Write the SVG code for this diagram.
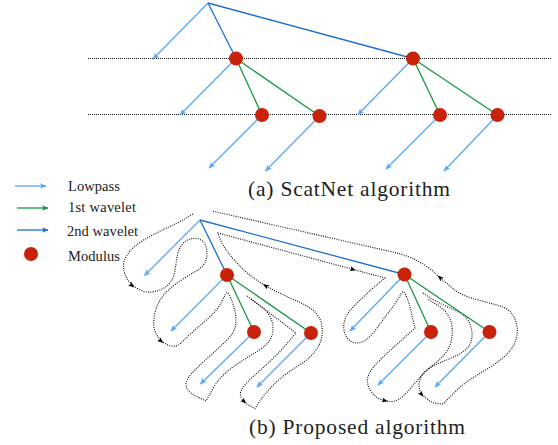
<svg xmlns="http://www.w3.org/2000/svg" xmlns:xlink="http://www.w3.org/1999/xlink" width="558" height="445" viewBox="0 0 558 445">
<style>
  .lp { stroke: #58a8f5; stroke-width: 1.3; fill: none; marker-end: url(#mlp); }
  .w1 { stroke: #1a9641; stroke-width: 1.3; fill: none; }
  .w2 { stroke: #1f6fcf; stroke-width: 1.3; fill: none; }
  .mod { fill: #c8230a; }
  .grid { stroke: #111; stroke-width: 1; stroke-dasharray: 1 1; fill: none; }
  .dot { stroke: #111; stroke-width: 1.15; stroke-dasharray: 1 1.3; fill: none; }
  .ah { fill: #000; }
  .lbl { font-family: "Liberation Serif", "Times New Roman", serif; font-size: 14.5px; fill: #222; }
  .cap { font-family: "Liberation Serif", "Times New Roman", serif; font-size: 21.5px; fill: #222; }
</style>
<defs>
  <marker id="mlp" viewBox="-7 -4 8 8" refX="0" refY="0" markerWidth="8" markerHeight="8" markerUnits="userSpaceOnUse" orient="auto">
    <path d="M0.6,0 L-6,-2.8 L-4.4,0 L-6,2.8 Z" fill="#58a8f5"/>
  </marker>
  <marker id="mw1" viewBox="-7 -4 8 8" refX="0" refY="0" markerWidth="8" markerHeight="8" markerUnits="userSpaceOnUse" orient="auto">
    <path d="M0.6,0 L-6,-2.8 L-4.4,0 L-6,2.8 Z" fill="#1a9641"/>
  </marker>
  <marker id="mw2" viewBox="-7 -4 8 8" refX="0" refY="0" markerWidth="8" markerHeight="8" markerUnits="userSpaceOnUse" orient="auto">
    <path d="M0.6,0 L-6,-2.8 L-4.4,0 L-6,2.8 Z" fill="#1f6fcf"/>
  </marker>
  <path id="ah" d="M3,0 L-3,-2.4 L-1.8,0 L-3,2.4 Z"/>
</defs>

<!-- (a) level lines -->
<g id="levels">
  <line class="grid" x1="88" y1="58.5" x2="552" y2="58.5"/>
  <line class="grid" x1="88" y1="114.5" x2="552" y2="114.5"/>
</g>

<!-- (a) connectors -->
<g id="connectors-a">
  <line class="lp" x1="208" y1="3" x2="153" y2="59"/>
  <line class="w2" x1="208" y1="3" x2="236" y2="58.5"/>
  <line class="w2" x1="208" y1="3" x2="413" y2="58.5"/>
  <line class="lp" x1="236" y1="58.5" x2="180" y2="115"/>
  <line class="w1" x1="236" y1="58.5" x2="262" y2="115"/>
  <line class="w1" x1="236" y1="58.5" x2="319.5" y2="116"/>
  <line class="lp" x1="262" y1="115" x2="209" y2="168"/>
  <line class="lp" x1="319.5" y1="116" x2="265.5" y2="171"/>
  <line class="lp" x1="413" y1="58.5" x2="358" y2="114.5"/>
  <line class="w1" x1="413" y1="58.5" x2="440" y2="115"/>
  <line class="w1" x1="413" y1="58.5" x2="497.5" y2="115"/>
  <line class="lp" x1="440" y1="115" x2="386" y2="169"/>
  <line class="lp" x1="497.5" y1="115" x2="444" y2="171"/>
</g>
<g id="a-A"><circle class="mod" cx="236" cy="58.5" r="7"/></g>
<g id="a-B"><circle class="mod" cx="413" cy="58.5" r="7"/></g>
<g id="a-C"><circle class="mod" cx="262" cy="115" r="7"/></g>
<g id="a-D"><circle class="mod" cx="319.5" cy="116" r="7"/></g>
<g id="a-E"><circle class="mod" cx="440" cy="115" r="7"/></g>
<g id="a-F"><circle class="mod" cx="497.5" cy="115" r="7"/></g>
<text class="cap" x="248" y="196" textLength="202" lengthAdjust="spacing">(a) ScatNet algorithm</text>

<!-- legend -->
<g id="legend">
  <line x1="15" y1="186" x2="46" y2="186" stroke="#58a8f5" stroke-width="1.3" marker-end="url(#mlp)"/>
  <text class="lbl" x="68" y="190.7" textLength="52" lengthAdjust="spacing">Lowpass</text>
  <line x1="17" y1="208" x2="48" y2="208" stroke="#1a9641" stroke-width="1.3" marker-end="url(#mw1)"/>
  <text class="lbl" x="68" y="211.7" textLength="68" lengthAdjust="spacing">1st wavelet</text>
  <line x1="17" y1="230" x2="48" y2="230" stroke="#1f6fcf" stroke-width="1.3" marker-end="url(#mw2)"/>
  <text class="lbl" x="67" y="235.5" textLength="71" lengthAdjust="spacing">2nd wavelet</text>
  <circle class="mod" cx="31" cy="254" r="7"/>
  <text class="lbl" x="68" y="260.7" textLength="52" lengthAdjust="spacing">Modulus</text>
</g>

<!-- (b) traversal contour -->
<g id="traversal">
  <path class="dot" d="M193,214 Q180,222 172,225.5 Q164,229 153.5,234.5 Q143,240 136.5,245 Q130,250 126.5,256 Q123,262 123.5,267.5 Q124,273 127,278.5 Q130,284 137.5,288.5 Q145,293 151.5,292 Q158,291 163,288.5 Q168,286 171,281.5 Q174,277 175,270.5 Q176,264 177,257.5 Q178,251 181,246 Q184,241 189.5,239.25 Q195,237.5 199.5,239.25 Q204,241 205.75,246 Q207.5,251 206.75,256.5 Q206,262 203,265.5 Q200,269 194.5,272 Q189,275 181.5,280 Q174,285 168,290.5 Q162,296 158.5,303 Q155,310 154,317.5 Q153,325 155,331 Q157,337 161.5,341 Q166,345 171.5,346 Q177,347 181,343 Q185,339 191,333.5 Q197,328 203.5,322.5 Q210,317 214.5,312 Q219,307 221.5,302 Q224,297 225.5,294 Q227,291 229,294.5 Q231,298 233,304 Q235,310 235.75,316.5 Q236.5,323 234.75,328.5 Q233,334 226.5,340.5 Q220,347 211,355 Q202,363 195,370 Q188,377 186.5,381.5 Q185,386 188,390 Q191,394 198.5,397.5 L206,401 L208.5,396.5 Q211,392 214.5,386 Q218,380 224.5,374 Q231,368 239.5,362.5 Q248,357 257,351.5 Q266,346 269.5,340.5 Q273,335 273,328.5 Q273,322 270,316.5 Q267,311 262.5,307.5 L251,299"/>
  <path class="dot" d="M247,296 L296,333 Q281,351 272.5,359 Q264,367 256.5,373.5 Q249,380 244,386 Q239,392 241,397 Q243,402 249,405.25 L255,408.5 L259,402.25 Q263,396 270.5,388 Q278,380 285.5,374.5 Q293,369 301,364 Q309,359 314.5,352 Q320,345 321.5,338 Q323,331 321.5,324 Q320,317 315,312 Q310,307 300,302.5 Q290,298 277.5,292 Q265,286 255,279 Q245,272 236.5,262.5 Q228,253 224,246.5 Q220,240 218,233 L385,278 Q373,288 366.5,294 Q360,300 354,306 Q348,312 345.5,318 Q343,324 344,330 Q345,336 348.5,339.5 Q352,343 357,343 Q362,343 367,339 Q372,335 377,328 Q382,321 387,314.5 Q392,308 395.5,303 Q399,298 401,294 Q403,290 405,293.5 Q407,297 409.5,305 L415,328 Q403,339 395,346 Q387,353 379.5,360.5 Q372,368 369.5,373 Q367,378 367.5,382.5 Q368,387 371.5,392 Q375,397 380,399 Q385,401 390,401.5 Q395,402 400,398.5 Q405,395 409.5,389.5 Q414,384 419,378.5 Q424,373 430.5,367.5 Q437,362 442.5,356.5 Q448,351 450.25,344 Q452.5,337 452.25,329.5 Q452,322 448.5,316 Q445,310 439.5,306.5 Q434,303 427,298.5"/>
  <path class="dot" d="M423,293 Q433,300 441.5,304 Q450,308 457.5,311.5 Q465,315 468.5,321 Q472,327 472,335 Q472,343 467.5,348 Q463,353 453,357.25 Q443,361.5 435.5,364.75 Q428,368 424,372.5 Q420,377 419.25,382 Q418.5,387 420.25,391 Q422,395 427,399 Q432,403 437.5,403.5 L443,404 L446.5,400.5 Q450,397 456,391 Q462,385 469.5,380 Q477,375 487,369 Q497,363 504.5,356.5 Q512,350 515.25,341.5 Q518.5,333 516.75,325 Q515,317 511,312.5 Q507,308 498.5,305.5 Q490,303 480,300.5 Q470,298 463.5,295 Q457,292 452,287.75 Q447,283.5 443.5,280.75 Q440,278 436,274 Q432,270 426,266 Q420,262 414,259 Q408,256 400.5,254 Q393,252 384,250 L212,211"/>
  <use href="#ah" class="ah" transform="translate(132,285.5) rotate(40)"/>
  <use href="#ah" class="ah" transform="translate(161,341) rotate(40)"/>
  <use href="#ah" class="ah" transform="translate(244,401.5) rotate(45)"/>
  <use href="#ah" class="ah" transform="translate(265.5,285.8) rotate(209)"/>
  <use href="#ah" class="ah" transform="translate(353,269.4) rotate(15)"/>
  <use href="#ah" class="ah" transform="translate(385,400.6) rotate(12)"/>
  <use href="#ah" class="ah" transform="translate(421.5,394.5) rotate(52)"/>
  <use href="#ah" class="ah" transform="translate(440,277.6) rotate(222)"/>
</g>

<!-- (b) connectors -->
<g id="connectors-b">
  <line class="lp" x1="200" y1="220" x2="144.5" y2="275.5"/>
  <line class="w2" x1="200" y1="220" x2="227" y2="275"/>
  <line class="w2" x1="200" y1="220" x2="404.5" y2="274.5"/>
  <line class="lp" x1="227" y1="275" x2="171" y2="331"/>
  <line class="w1" x1="227" y1="275" x2="254" y2="332"/>
  <line class="w1" x1="227" y1="275" x2="311" y2="333"/>
  <line class="lp" x1="254" y1="332" x2="200.5" y2="384"/>
  <line class="lp" x1="311" y1="333" x2="257" y2="387"/>
  <line class="lp" x1="404.5" y1="274.5" x2="350" y2="331"/>
  <line class="w1" x1="404.5" y1="274.5" x2="431" y2="332"/>
  <line class="w1" x1="404.5" y1="274.5" x2="489.5" y2="332"/>
  <line class="lp" x1="431" y1="332" x2="378" y2="385"/>
  <line class="lp" x1="489.5" y1="332" x2="435" y2="387"/>
</g>
<g id="b-G"><circle class="mod" cx="227" cy="275" r="7"/></g>
<g id="b-H"><circle class="mod" cx="404.5" cy="274.5" r="7"/></g>
<g id="b-I"><circle class="mod" cx="254" cy="332" r="7"/></g>
<g id="b-J"><circle class="mod" cx="311" cy="333" r="7"/></g>
<g id="b-K"><circle class="mod" cx="431" cy="332" r="7"/></g>
<g id="b-L"><circle class="mod" cx="489.5" cy="332" r="7"/></g>
<text class="cap" x="249" y="433.5" textLength="216" lengthAdjust="spacing">(b) Proposed algorithm</text>
</svg>
